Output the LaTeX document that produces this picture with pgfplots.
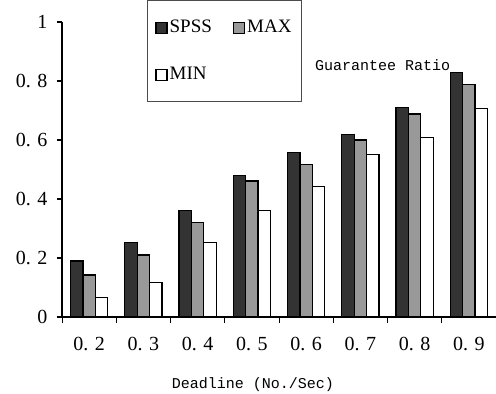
\documentclass[border=0pt]{standalone}
\usepackage{fontspec}
\setmainfont{Liberation Serif}
\newfontfamily\monofont{Liberation Mono}
\usepackage{pgfplots}
\pgfplotsset{compat=1.18}
\definecolor{spss}{HTML}{333333}
\definecolor{maxc}{HTML}{999999}
\pgfplotsset{
  mylegend/.style={legend image code/.code={\draw[##1,line width=1.3pt] (0pt,-6pt) rectangle (11pt,5pt);}}
}
\begin{document}
\begin{tikzpicture}
\begin{axis}[
  at={(0,0)}, anchor=south west,
  width=434pt, height=295pt, scale only axis,
  xmin=-0.5, xmax=7.5, ymin=0, ymax=1,
  axis lines=left,
  x axis line style={-, line width=1.2pt},
  y axis line style={-, line width=1.2pt},
  tick align=outside,
  xtick={0,...,7},
  xticklabels={0.\,\,2,0.\,\,3,0.\,\,4,0.\,\,5,0.\,\,6,0.\,\,7,0.\,\,8,0.\,\,9},
  major x tick style={draw=none},
  minor xtick={-0.5,0.5,...,7.5},
  minor tick length=6pt,
  minor x tick style={line width=0.8pt, black},
  ytick={0,0.2,0.4,0.6,0.8,1},
  yticklabels={0,0.\,\,2,0.\,\,4,0.\,\,6,0.\,\,8,1},
  major tick length=5pt,
  major y tick style={line width=1.2pt, black},
  tick label style={font=\fontsize{20}{22}\selectfont},
  xticklabel style={yshift=-12pt},
  yticklabel style={xshift=-6pt},
  xlabel={\monofont Deadline (No./Sec)},
  xlabel style={font=\fontsize{15}{17}\selectfont, at={(axis description cs:0.44,0)}, anchor=center, yshift=-68pt},
  ybar=0pt, bar width=12.4pt,
  every axis plot/.append style={draw=black, line width=1.3pt},
  legend style={draw=black!70, line width=0.6pt, at={(0.1959,1.0746)}, anchor=north west,
    font=\fontsize{19}{21}\selectfont, inner xsep=8pt, inner ysep=18pt, row sep=29pt,
    /tikz/every even column/.append style={column sep=19pt}},
  legend columns=2,
  legend cell align=left,
  clip=false,
]
\addplot[fill=spss, mylegend] coordinates {(0,0.19) (1,0.252) (2,0.36) (3,0.479) (4,0.558) (5,0.619) (6,0.71) (7,0.828)};
\addplot[fill=maxc, mylegend] coordinates {(0,0.142) (1,0.21) (2,0.32) (3,0.461) (4,0.518) (5,0.6) (6,0.688) (7,0.789)};
\addplot[fill=white, mylegend] coordinates {(0,0.067) (1,0.118) (2,0.253) (3,0.36) (4,0.442) (5,0.552) (6,0.608) (7,0.707)};
\legend{SPSS,MAX,MIN}
\node[anchor=west, font=\monofont\fontsize{15}{17}\selectfont, inner sep=0pt] at (rel axis cs:0.583,0.854) {Guarantee Ratio};
\end{axis}
\pgfresetboundingbox
\useasboundingbox (-62pt,-77pt) rectangle (434pt,317pt);
\end{tikzpicture}
\end{document}
